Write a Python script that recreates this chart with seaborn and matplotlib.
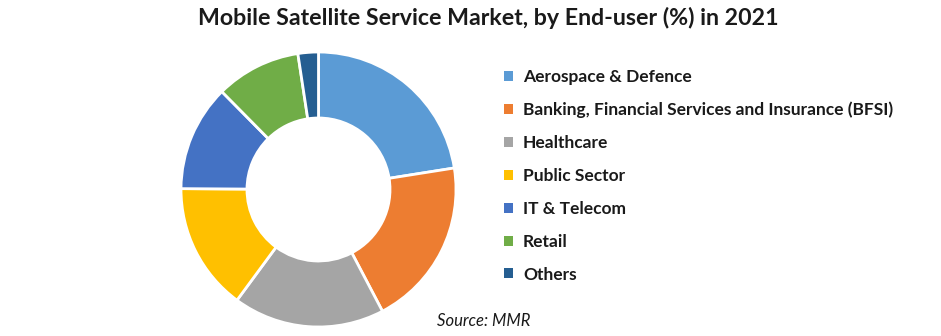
import matplotlib
matplotlib.use("Agg")
import matplotlib.pyplot as plt
from matplotlib.patches import Patch
import seaborn as sns

# Market share by end-user, 2021 (%)
end_users = [
    "Aerospace & Defence",
    "Banking, Financial Services and Insurance (BFSI)",
    "Healthcare",
    "Public Sector",
    "IT & Telecom",
    "Retail",
    "Others",
]
shares = [22.5, 19.8, 17.8, 15.0, 12.5, 10.0, 2.4]
colors = ["#5B9BD5", "#ED7D31", "#A5A5A5", "#FFC000", "#4472C4", "#70AD47", "#255E91"]

sns.set_theme(style="white")
plt.rcParams["font.family"] = ["Lato", "DejaVu Sans"]

fig = plt.figure(figsize=(9.41, 3.36), dpi=100)
fig.patch.set_facecolor("white")

# donut axes, square in pixels
cx, cy, r = 318.5, 189.5, 137.5
W, H = 941, 336
ax = fig.add_axes([(cx - r) / W, (H - cy - r) / H, 2 * r / W, 2 * r / H])
wedges, _ = ax.pie(
    shares,
    colors=colors,
    startangle=90,
    counterclock=False,
    radius=1.0,
    wedgeprops=dict(width=0.48, edgecolor="white", linewidth=2),
)
ax.set_xlim(-1.0, 1.0)
ax.set_ylim(-1.0, 1.0)
ax.set_aspect("equal")
ax.axis("off")

fig.text(488 / W, 1 - 18 / H, "Mobile Satellite Service Market, by End-user (%) in 2021",
         ha="center", va="center", fontsize=16.7, fontweight="bold", color="#1a1a1a")

handles = [Patch(facecolor=c, edgecolor="none") for c in colors]
leg = fig.legend(
    handles, end_users,
    loc="upper left",
    bbox_to_anchor=(504 / W, 1 - 69 / H),
    frameon=False,
    fontsize=12.5,
    handlelength=0.5,
    handleheight=0.5,
    handletextpad=0.6,
    labelspacing=0.97,
    borderaxespad=0,
    borderpad=0,
)
for t in leg.get_texts():
    t.set_fontweight("bold")
    t.set_color("#1a1a1a")

fig.text(484 / W, 1 - 321 / H, "Source: MMR", ha="center", va="center",
         fontsize=12, fontstyle="italic", color="#1a1a1a")

fig.savefig("out.png", dpi=100, facecolor="white")
